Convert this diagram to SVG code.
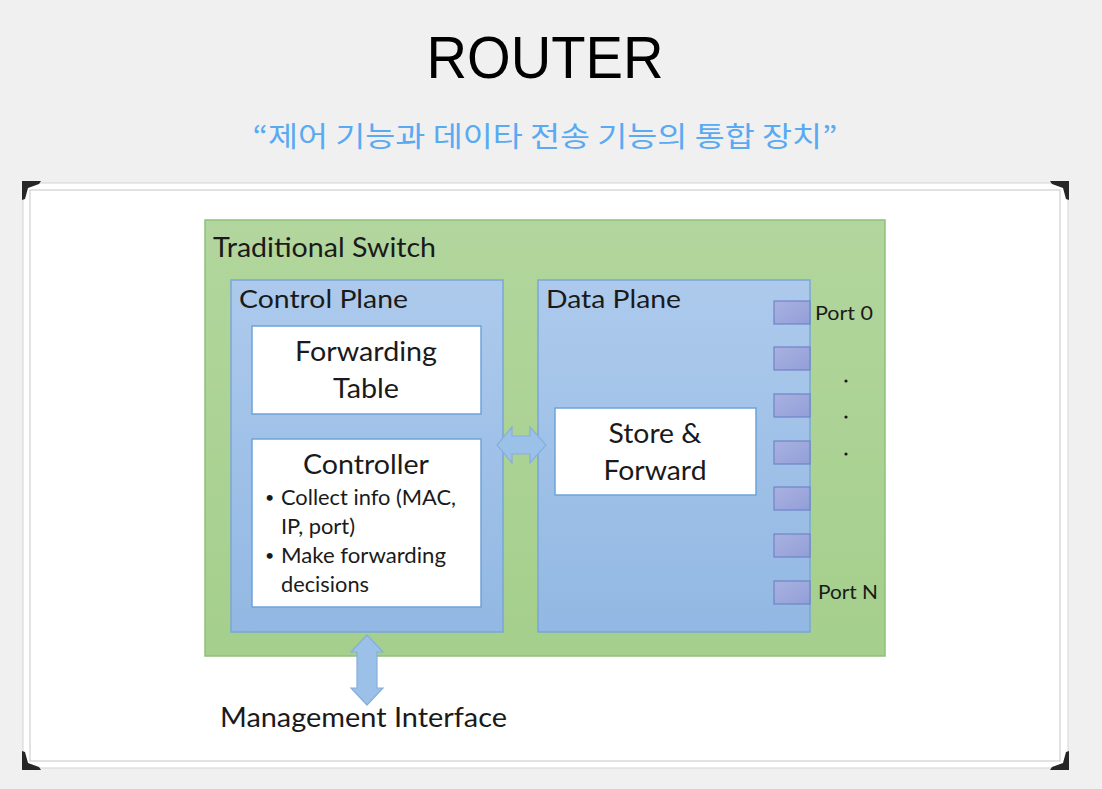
<svg xmlns="http://www.w3.org/2000/svg" width="1102" height="789" viewBox="0 0 1102 789">
<defs>
<linearGradient id="gBlue" x1="0" y1="0" x2="0" y2="1">
<stop offset="0" stop-color="#adcaec"/>
<stop offset="1" stop-color="#92b8e3"/>
</linearGradient>
<linearGradient id="gGreen" x1="0" y1="0" x2="0" y2="1">
<stop offset="0" stop-color="#b2d69d"/>
<stop offset="1" stop-color="#a5cf8c"/>
</linearGradient>
<linearGradient id="gPort" x1="0" y1="0" x2="1" y2="1">
<stop offset="0" stop-color="#aab1e0"/>
<stop offset="1" stop-color="#919fd8"/>
</linearGradient>
</defs>
<style>
.lbl{font-family:"Lato","Open Sans","Liberation Sans",sans-serif;fill:#1a1a1a}
.box{fill:#ffffff;stroke:#6fa3d8;stroke-width:1.5}
.plane{fill:url(#gBlue);stroke:#7aa6d6;stroke-width:1.5}
.port{fill:url(#gPort);stroke:#6f84c6;stroke-width:1.2}
.arrow{fill:#9cc1e8;stroke:#86aedd;stroke-width:1.2}
.corner{fill:#262626}
</style>
<rect x="0" y="0" width="1102" height="789" fill="#f0f0f0"/>
<text x="545" y="78" text-anchor="middle" font-family="Liberation Sans, Arial, sans-serif" font-size="60" fill="#000" textLength="237" lengthAdjust="spacingAndGlyphs">ROUTER</text>
<text x="545" y="147" text-anchor="middle" font-family="Noto Sans CJK KR, Noto Sans, sans-serif" font-size="28" fill="#5aaaf2" textLength="585" lengthAdjust="spacingAndGlyphs">“제어 기능과 데이타 전송 기능의 통합 장치”</text>

<g id="frame">
<rect x="23" y="183" width="1045" height="585" fill="#ffffff" stroke="#d4d4d4" stroke-width="1"/>
<rect x="30" y="190" width="1030" height="571" fill="#ffffff" stroke="#cfcfcf" stroke-width="1.2"/>
<path class="corner" d="M22,181 H41 L39,184 L28,188 L25,199 L22,200 Z"/>
<path class="corner" d="M1069,181 H1050 L1052,184 L1063,188 L1066,199 L1069,200 Z"/>
<path class="corner" d="M22,770 H41 L39,767 L28,763 L25,752 L22,751 Z"/>
<path class="corner" d="M1069,770 H1050 L1052,767 L1063,763 L1066,752 L1069,751 Z"/>
</g>

<g id="traditional-switch">
<rect x="205" y="220" width="680" height="436" fill="url(#gGreen)" stroke="#8fc07a" stroke-width="1.5"/>
<text class="lbl" x="213" y="257" font-size="26" textLength="223" lengthAdjust="spacingAndGlyphs">Traditional Switch</text>
</g>

<g id="control-plane">
<rect class="plane" x="231" y="280" width="272" height="352"/>
<text class="lbl" x="239" y="308" font-size="25" textLength="169" lengthAdjust="spacingAndGlyphs">Control Plane</text>
</g>

<g id="forwarding-table">
<rect class="box" x="252" y="326" width="229" height="88"/>
<text class="lbl" x="366" y="361" font-size="26" text-anchor="middle" textLength="142" lengthAdjust="spacingAndGlyphs">Forwarding</text>
<text class="lbl" x="366" y="398" font-size="26" text-anchor="middle" textLength="66" lengthAdjust="spacingAndGlyphs">Table</text>
</g>

<g id="controller">
<rect class="box" x="252" y="439" width="229" height="168"/>
<text class="lbl" x="366" y="474" font-size="26" text-anchor="middle" textLength="126" lengthAdjust="spacingAndGlyphs">Controller</text>
<text class="lbl" x="265" y="503" font-size="16">•</text>
<text class="lbl" x="281" y="505" font-size="21" textLength="175" lengthAdjust="spacingAndGlyphs">Collect info (MAC,</text>
<text class="lbl" x="281" y="534" font-size="21" textLength="74" lengthAdjust="spacingAndGlyphs">IP, port)</text>
<text class="lbl" x="265" y="561" font-size="16">•</text>
<text class="lbl" x="281" y="563" font-size="21" textLength="165" lengthAdjust="spacingAndGlyphs">Make forwarding</text>
<text class="lbl" x="281" y="592" font-size="21" textLength="88" lengthAdjust="spacingAndGlyphs">decisions</text>
</g>

<g id="data-plane">
<rect class="plane" x="538" y="280" width="272" height="352"/>
<text class="lbl" x="546" y="308" font-size="25" textLength="135" lengthAdjust="spacingAndGlyphs">Data Plane</text>
</g>

<g id="store-forward">
<rect class="box" x="555" y="408" width="201" height="87"/>
<text class="lbl" x="655" y="443" font-size="26" text-anchor="middle" textLength="93" lengthAdjust="spacingAndGlyphs">Store &amp;</text>
<text class="lbl" x="655" y="480" font-size="26" text-anchor="middle" textLength="103" lengthAdjust="spacingAndGlyphs">Forward</text>
</g>

<g id="ports">
<rect class="port" x="774" y="301" width="36" height="23"/>
<rect class="port" x="774" y="347" width="36" height="23"/>
<rect class="port" x="774" y="394" width="36" height="23"/>
<rect class="port" x="774" y="441" width="36" height="23"/>
<rect class="port" x="774" y="487" width="36" height="23"/>
<rect class="port" x="774" y="534" width="36" height="23"/>
<rect class="port" x="774" y="581" width="36" height="23"/>
<text class="lbl" x="815" y="320" font-size="19" textLength="58" lengthAdjust="spacingAndGlyphs">Port 0</text>
<text class="lbl" x="818" y="599" font-size="19" textLength="60" lengthAdjust="spacingAndGlyphs">Port N</text>
<circle cx="846" cy="381" r="1.6" fill="#1a1a1a"/>
<circle cx="846" cy="417" r="1.6" fill="#1a1a1a"/>
<circle cx="846" cy="454" r="1.6" fill="#1a1a1a"/>
</g>

<g id="management-interface">
<text class="lbl" x="220" y="727" font-size="26" textLength="287" lengthAdjust="spacingAndGlyphs">Management Interface</text>
</g>

<g id="connectors">
<path class="arrow" d="M497,445 L512,427 L512,436 L530,436 L530,427 L546,445 L530,463 L530,454 L512,454 L512,463 Z"/>
<path class="arrow" d="M367,635 L383,652 L377,652 L377,688 L383,688 L367,705 L351,688 L357,688 L357,652 L351,652 Z"/>
</g>
</svg>
